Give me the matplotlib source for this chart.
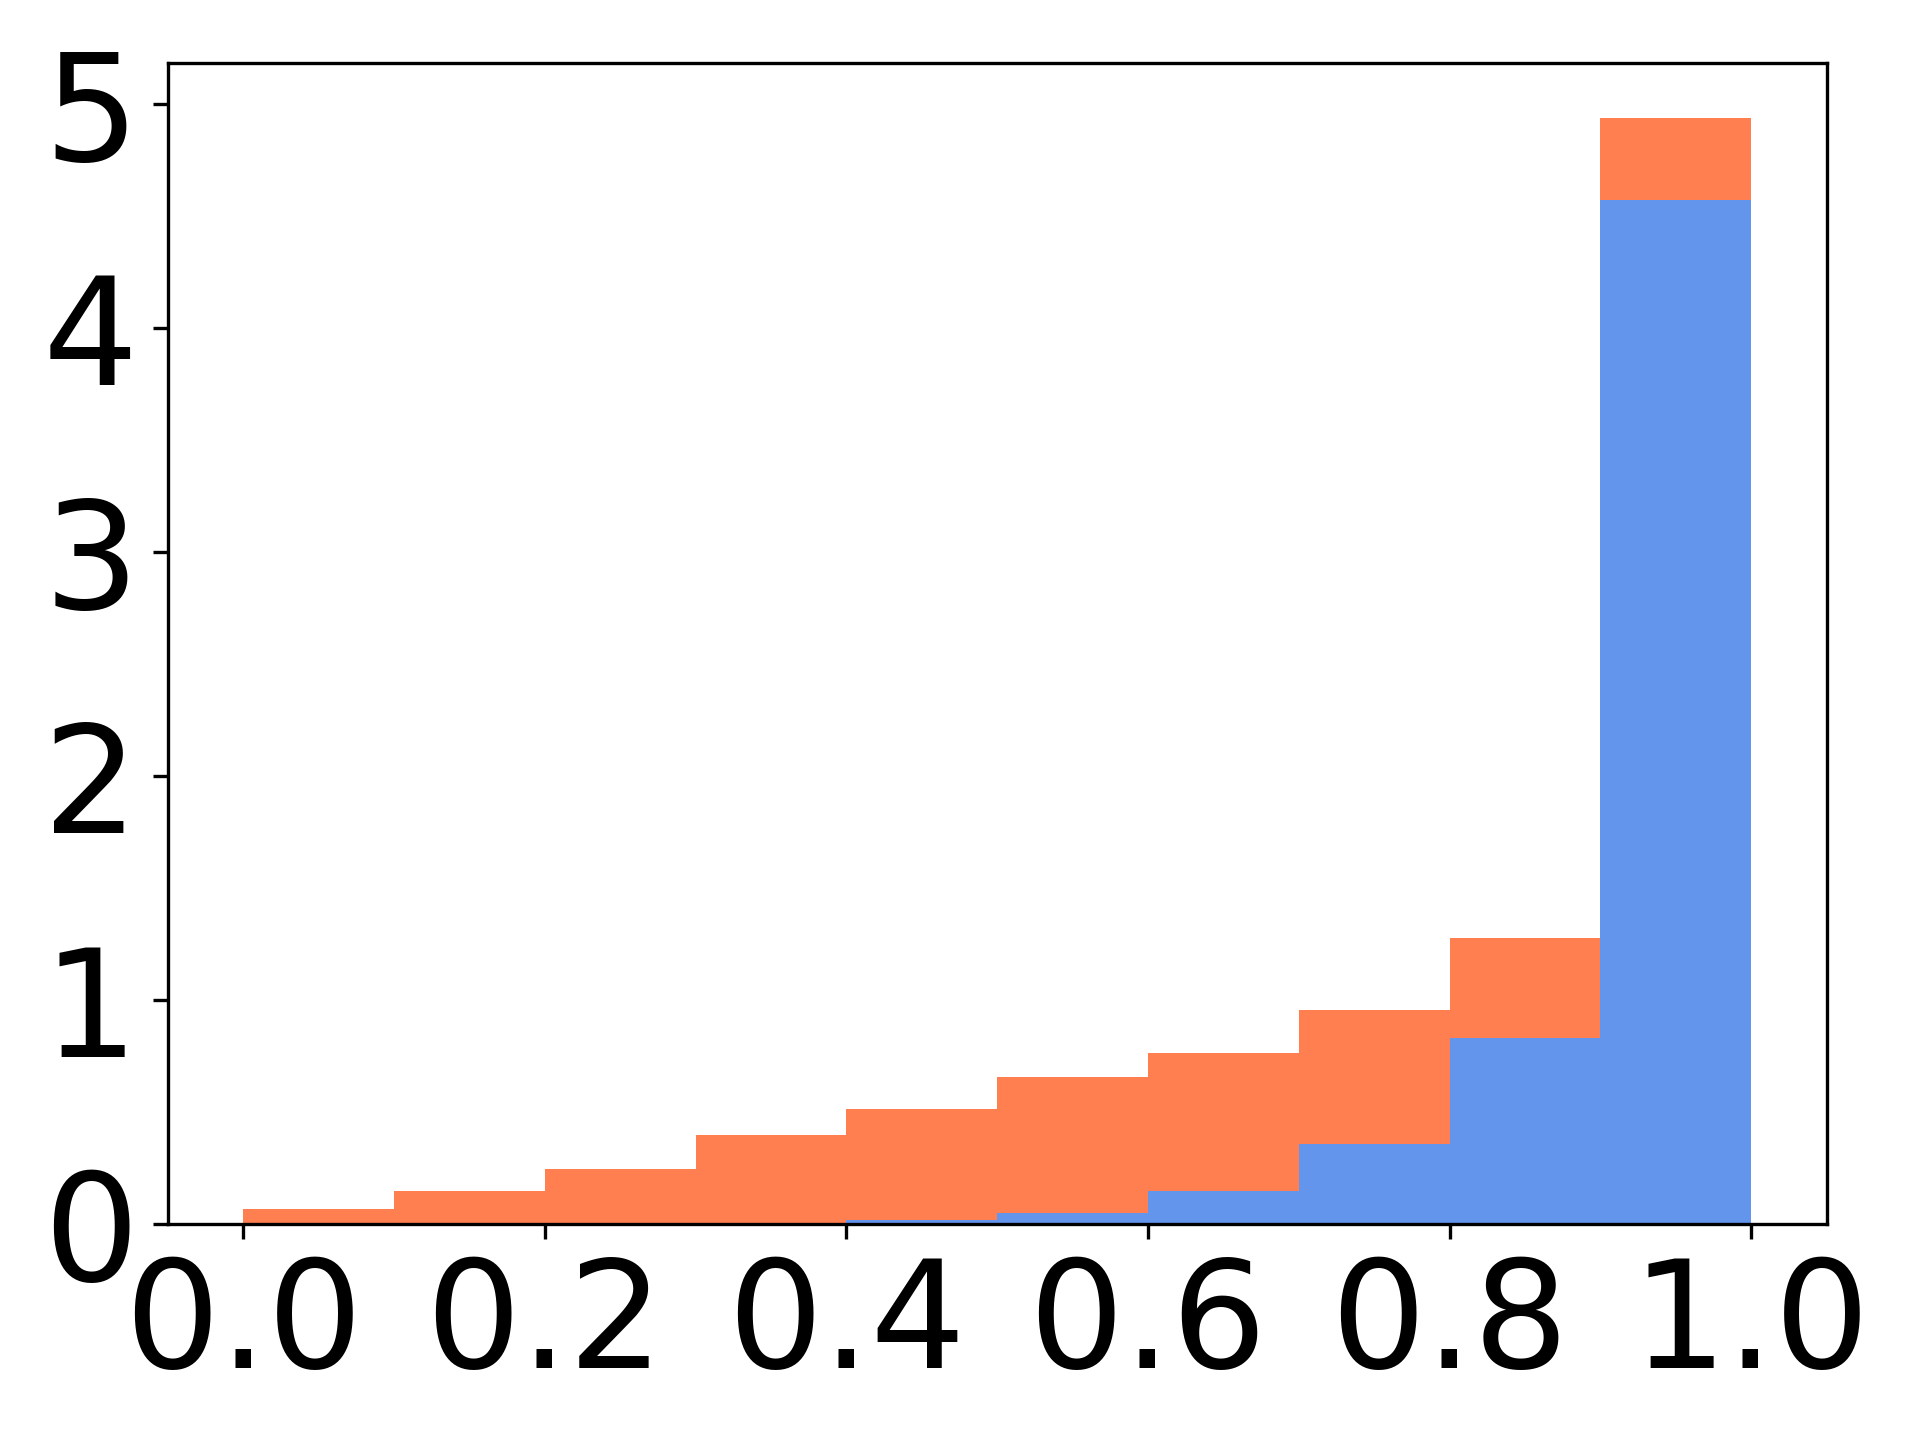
import numpy as np
import matplotlib
matplotlib.use("Agg")
import matplotlib.pyplot as plt

# bin edges and densities
edges = np.linspace(0.0, 1.0, 11)
orange_density = [0.07, 0.15, 0.248, 0.40, 0.517, 0.66, 0.767, 0.955, 1.277, 4.937]
blue_density = [0.0, 0.0, 0.0, 0.005, 0.018, 0.053, 0.147, 0.357, 0.83, 4.573]

centers = (edges[:-1] + edges[1:]) / 2

fig = plt.figure(figsize=(6.4, 4.8), dpi=300)
ax = fig.add_axes([0.0873, 0.1497, 0.8641, 0.8068])

ax.hist(centers, bins=edges, weights=orange_density, color="coral")
ax.hist(centers, bins=edges, weights=blue_density, color="cornflowerblue")

plt.setp(ax.get_xticklabels(), fontsize=36)
plt.setp(ax.get_yticklabels(), fontsize=36)
ax.set_xticks(np.arange(0, 1.01, 0.2))
ax.set_yticks(np.arange(0, 6, 1))
ax.tick_params(labelsize=36)

plt.savefig("out.png", dpi=300)
